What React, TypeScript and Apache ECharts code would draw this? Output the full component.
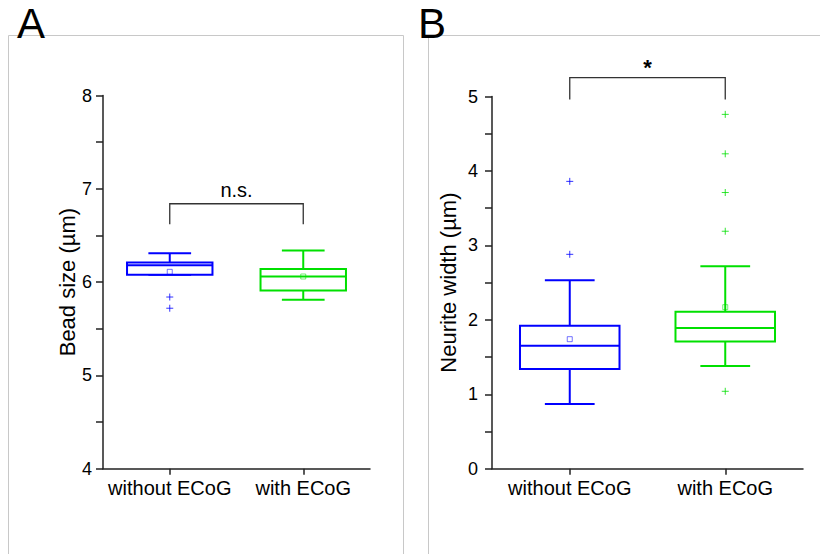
import React, { useEffect, useRef } from "react";
import * as echarts from "echarts";

const categories = ["without ECoG", "with ECoG"];
const boxColors = ["#0000ff", "#00e000"];

// Panel A: Bead size (µm) — [min, Q1, median, Q3, max]
const beadStats = [
  [6.08, 6.08, 6.18, 6.21, 6.31],
  [5.81, 5.91, 6.06, 6.14, 6.34],
];
const beadMeans = [6.11, 6.06];
const beadOutliers = [
  [0, 5.84],
  [0, 5.72],
];

// Panel B: Neurite width (µm) — [min, Q1, median, Q3, max]
const neuriteStats = [
  [0.87, 1.34, 1.65, 1.92, 2.53],
  [1.38, 1.71, 1.89, 2.11, 2.72],
];
const neuriteMeans = [1.74, 2.17];
const neuriteOutliers = [
  [0, 3.86],
  [0, 2.88],
  [1, 4.76],
  [1, 4.23],
  [1, 3.71],
  [1, 3.19],
  [1, 1.04],
];

// Significance brackets: [from category, to category, bar level, leg end]
const bracketA = [[0, 1, 6.84, 6.62]];
const bracketALabel = "n.s.";
const bracketB = [[0, 1, 5.254, 4.96]];
const bracketBLabel = "*";

const FONT = "Liberation Sans, Arial, sans-serif";

function boxRender(params: any, api: any) {
  const ci = api.value(0);
  const mn = api.value(1);
  const q1 = api.value(2);
  const md = api.value(3);
  const q3 = api.value(4);
  const mx = api.value(5);
  const mean = api.value(6);
  const band = api.size([1, 0])[0];
  const bw = band * 0.64;
  const cw = bw / 2;
  const pMin = api.coord([ci, mn]);
  const pQ1 = api.coord([ci, q1]);
  const pMd = api.coord([ci, md]);
  const pQ3 = api.coord([ci, q3]);
  const pMx = api.coord([ci, mx]);
  const pMean = api.coord([ci, mean]);
  const x = pMd[0];
  const color = boxColors[ci];
  const ls = { stroke: color, lineWidth: 2, fill: "none" };
  const children: any[] = [
    { type: "line", shape: { x1: x, y1: pQ3[1], x2: x, y2: pMx[1] }, style: ls },
    { type: "line", shape: { x1: x, y1: pQ1[1], x2: x, y2: pMin[1] }, style: ls },
    { type: "line", shape: { x1: x - cw / 2, y1: pMx[1], x2: x + cw / 2, y2: pMx[1] }, style: ls },
    { type: "line", shape: { x1: x - cw / 2, y1: pMin[1], x2: x + cw / 2, y2: pMin[1] }, style: ls },
    {
      type: "rect",
      shape: { x: x - bw / 2, y: pQ3[1], width: bw, height: pQ1[1] - pQ3[1] },
      style: { ...ls, fill: "#fff" },
    },
    { type: "line", shape: { x1: x - bw / 2, y1: pMd[1], x2: x + bw / 2, y2: pMd[1] }, style: ls },
    {
      type: "rect",
      shape: { x: x - 2.5, y: pMean[1] - 2.5, width: 5, height: 5 },
      style: { stroke: color, lineWidth: 1, fill: "none", opacity: 0.55 },
    },
  ];
  return { type: "group", children };
}

function outlierRender(params: any, api: any) {
  const ci = api.value(0);
  const p = api.coord([ci, api.value(1)]);
  const color = boxColors[ci];
  const s = 3.5;
  const st = { stroke: color, lineWidth: 1, opacity: 0.8 };
  return {
    type: "group",
    children: [
      { type: "line", shape: { x1: p[0] - s, y1: p[1], x2: p[0] + s, y2: p[1] }, style: st },
      { type: "line", shape: { x1: p[0], y1: p[1] - s, x2: p[0], y2: p[1] + s }, style: st },
    ],
  };
}

function bracketRender(label: string, bold: boolean) {
  return (params: any, api: any) => {
    const a = api.value(0);
    const b = api.value(1);
    const top = api.value(2);
    const leg = api.value(3);
    const pa = api.coord([a, top]);
    const pb = api.coord([b, top]);
    const la = api.coord([a, leg]);
    const lb = api.coord([b, leg]);
    return {
      type: "group",
      children: [
        {
          type: "polyline",
          shape: { points: [[la[0], la[1]], [pa[0], pa[1]], [pb[0], pb[1]], [lb[0], lb[1]]] },
          style: { stroke: "#333", lineWidth: 1.3, fill: "none" },
        },
        {
          type: "text",
          style: {
            text: label,
            x: (pa[0] + pb[0]) / 2,
            y: pa[1] - (bold ? -1 : 4),
            align: "center",
            verticalAlign: "bottom",
            fontSize: bold ? 22 : 20,
            fontWeight: bold ? "bold" : "normal",
            fontFamily: FONT,
            fill: "#000",
          },
        },
      ],
    };
  };
}

function yAxis(gridIndex: number, name: string, min: number, max: number, nameGap: number, margin: number) {
  return {
    type: "value",
    gridIndex,
    min,
    max,
    interval: 1,
    name,
    nameLocation: "middle",
    nameGap,
    nameTextStyle: { fontSize: 22, fontFamily: FONT, color: "#000" },
    axisLine: { show: true, lineStyle: { color: "#222", width: 1.5 } },
    axisTick: { show: true, length: 7, lineStyle: { color: "#222", width: 1.5 } },
    minorTick: { show: true, splitNumber: 2, length: 7, lineStyle: { color: "#222", width: 1.5 } },
    splitLine: { show: false },
    axisLabel: { fontSize: 18, fontFamily: FONT, color: "#000", margin },
  };
}

function xAxis(gridIndex: number) {
  return {
    type: "category",
    gridIndex,
    data: categories,
    boundaryGap: true,
    axisLine: { show: true, lineStyle: { color: "#222", width: 1.5 } },
    axisTick: { show: true, alignWithLabel: true, length: 6, lineStyle: { color: "#222", width: 1.5 } },
    axisLabel: { fontSize: 20, fontFamily: FONT, color: "#000", margin: 9, interval: 0 },
    splitLine: { show: false },
  };
}

export default function App() {
  const ref = useRef<HTMLDivElement>(null);
  useEffect(() => {
    if (!ref.current) return;
    const chart = echarts.init(ref.current, undefined, { renderer: "svg" });
    const option: any = {
      animation: false,
      backgroundColor: "#fff",
      graphic: [
        {
          type: "rect",
          shape: { x: 8.5, y: 35.5, width: 395, height: 540 },
          style: { fill: "none", stroke: "#c8c8c8", lineWidth: 1 },
          z: -10,
        },
        {
          type: "rect",
          shape: { x: 428.5, y: 35.5, width: 420, height: 540 },
          style: { fill: "none", stroke: "#c8c8c8", lineWidth: 1 },
          z: -10,
        },
        {
          type: "text",
          x: 17,
          y: 2,
          style: { text: "A", fontSize: 42, fontFamily: FONT, fill: "#000", verticalAlign: "top" },
          z: 10,
        },
        {
          type: "text",
          x: 418,
          y: 2,
          style: { text: "B", fontSize: 42, fontFamily: FONT, fill: "#000", verticalAlign: "top" },
          z: 10,
        },
      ],
      grid: [
        { left: 103, right: 450, top: 95.5, bottom: 85.3 },
        { left: 492, right: 17, top: 96.5, bottom: 85.3 },
      ],
      xAxis: [xAxis(0), xAxis(1)],
      yAxis: [
        yAxis(0, "Bead size (µm)", 4, 8, 25, 11),
        yAxis(1, "Neurite width (µm)", 0, 5, 33, 14),
      ],
      series: [
        {
          type: "custom",
          xAxisIndex: 0,
          yAxisIndex: 0,
          renderItem: boxRender,
          encode: { x: 0, y: [1, 2, 3, 4, 5] },
          data: beadStats.map((s, i) => [i, ...s, beadMeans[i]]),
          clip: false,
        },
        {
          type: "custom",
          xAxisIndex: 0,
          yAxisIndex: 0,
          renderItem: outlierRender,
          encode: { x: 0, y: 1 },
          data: beadOutliers,
          clip: false,
        },
        {
          type: "custom",
          xAxisIndex: 0,
          yAxisIndex: 0,
          renderItem: bracketRender(bracketALabel, false),
          encode: { x: [0, 1], y: [2, 3] },
          data: bracketA,
          clip: false,
        },
        {
          type: "custom",
          xAxisIndex: 1,
          yAxisIndex: 1,
          renderItem: boxRender,
          encode: { x: 0, y: [1, 2, 3, 4, 5] },
          data: neuriteStats.map((s, i) => [i, ...s, neuriteMeans[i]]),
          clip: false,
        },
        {
          type: "custom",
          xAxisIndex: 1,
          yAxisIndex: 1,
          renderItem: outlierRender,
          encode: { x: 0, y: 1 },
          data: neuriteOutliers,
          clip: false,
        },
        {
          type: "custom",
          xAxisIndex: 1,
          yAxisIndex: 1,
          renderItem: bracketRender(bracketBLabel, true),
          encode: { x: [0, 1], y: [2, 3] },
          data: bracketB,
          clip: false,
        },
      ],
    };
    chart.setOption(option);
    return () => chart.dispose();
  }, []);
  return (
    <div
      ref={ref}
      style={{ position: "fixed", left: 0, top: 0, width: 820, height: 554 }}
    />
  );
}
